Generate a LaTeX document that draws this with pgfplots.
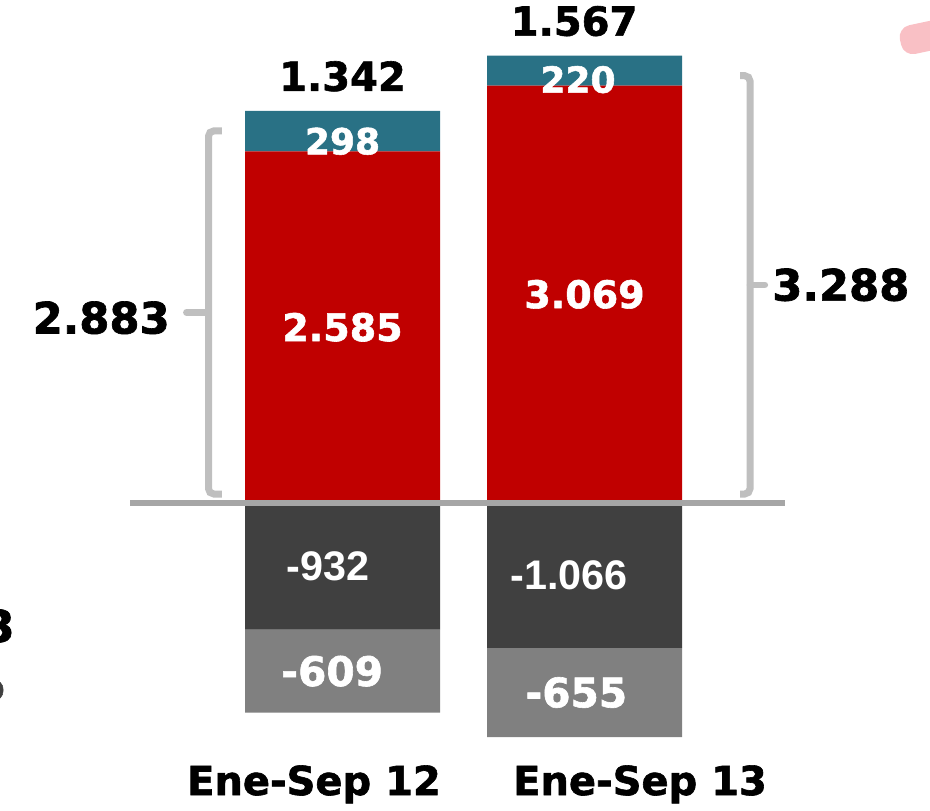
\documentclass[border=0pt]{standalone}
\usepackage{fontspec}
\setmainfont{DejaVu Sans}[BoldFeatures={FakeBold=1.5}]
\newfontfamily\arialf{Liberation Sans}
\usepackage{pgfplots}
\pgfplotsset{compat=1.18}

\definecolor{rojo}{RGB}{192,0,0}
\definecolor{azul}{RGB}{41,113,133}
\definecolor{oscuro}{RGB}{64,64,64}
\definecolor{medio}{RGB}{128,128,128}
\definecolor{llave}{RGB}{191,191,191}
\definecolor{linea}{RGB}{166,166,166}
\definecolor{rosa}{RGB}{249,192,197}

\newcommand{\fs}[1]{\fontsize{#1}{#1}\selectfont}

% 1px = 0.75pt; el eje ocupa toda la imagen
\pgfplotsset{
  base/.style={width=697.5pt, height=607.5pt, scale only axis, hide axis,
    xmin=-1.4153, xmax=2.4277, ymin=-2257.4, ymax=3698.5,
    ybar stacked, bar width=146.25pt, clip=false},
}

\begin{document}
\begin{tikzpicture}
% parte positiva
\begin{axis}[base]
  \addplot[fill=rojo, draw=none] coordinates {(0,2585) (1,3069)};
  \addplot[fill=azul, draw=none] coordinates {(0,298) (1,220)};

  \coordinate (SW) at (rel axis cs:0,0);
  \coordinate (NE) at (rel axis cs:1,1);
\end{axis}

% parte negativa
\begin{axis}[base]
  \addplot[fill=oscuro, draw=none] coordinates {(0,-932) (1,-1066)};
  \addplot[fill=medio, draw=none] coordinates {(0,-609) (1,-655)};
\end{axis}

% textos y llaves, encima de las barras
\begin{axis}[base]
  \draw[linea, line width=4.5pt] (axis cs:-0.878,0) -- (axis cs:1.8285,0);

  % totales netos
  \node[anchor=base, yshift=15pt, font=\bfseries\fs{30pt}] at (axis cs:0,2883) {1.342};
  \node[anchor=base, yshift=15pt, font=\bfseries\fs{30pt}] at (axis cs:0.957,3289) {1.567};

  % etiquetas dentro de las barras
  \node[text=white, font=\bfseries\fs{27pt}] at (axis cs:0,2660) {298};
  \node[text=white, font=\bfseries\fs{27pt}] at (axis cs:0.973,3113) {220};
  \node[text=white, font=\bfseries\fs{28.5pt}] at (axis cs:0,1292.5) {2.585};
  \node[text=white, font=\bfseries\fs{28.5pt}] at (axis cs:1,1534.5) {3.069};
  \node[text=white, font=\arialf\bfseries\fs{31pt}] at (axis cs:-0.06,-466) {-932};
  \node[text=white, font=\bfseries\fs{30.5pt}] at (axis cs:-0.043,-1236.5) {-609};
  \node[text=white, font=\arialf\bfseries\fs{31pt}] at (axis cs:0.936,-533) {-1.066};
  \node[text=white, font=\bfseries\fs{30.5pt}] at (axis cs:0.966,-1393.5) {-655};

  % llaves
  \draw[llave, line width=5.25pt, rounded corners=4pt]
    (axis cs:-0.498,2736) -- (axis cs:-0.5537,2736) -- (axis cs:-0.5537,66) -- (axis cs:-0.498,66);
  \draw[llave, line width=5pt, line cap=round] (axis cs:-0.5537,1401) -- (axis cs:-0.645,1401);
  \draw[llave, line width=5.25pt, rounded corners=4pt]
    (axis cs:1.6426,3142) -- (axis cs:1.6839,3142) -- (axis cs:1.6839,66) -- (axis cs:1.6426,66);
  \draw[llave, line width=5pt, line cap=round] (axis cs:1.6839,1604) -- (axis cs:1.745,1604);

  \node[anchor=east, inner sep=0pt, yshift=-4pt, font=\bfseries\fs{32.5pt}] at (axis cs:-0.7128,1401) {2.883};
  \node[anchor=west, inner sep=0pt, font=\bfseries\fs{32.5pt}] at (axis cs:1.7748,1604) {3.288};

  % categorias
  \node[anchor=base, inner sep=0pt, font=\bfseries\fs{30pt}] at (rel axis cs:0.3376,0.0185) {Ene-Sep 12};
  \node[anchor=base, inner sep=0pt, font=\bfseries\fs{30pt}] at (rel axis cs:0.6882,0.0185) {Ene-Sep 13};

  % restos recortados en los bordes
  \node[anchor=base east, inner sep=0pt, font=\bfseries\fs{33pt}] at (rel axis cs:0.0161,0.2074) {3};
  \node[anchor=base east, inner sep=0pt, text=black!75, font=\bfseries\fs{27pt}] at (rel axis cs:0.0054,0.1358) {o};
  \node[fill=rosa, rounded corners=9pt, minimum width=60pt, minimum height=22pt,
        rotate=12, anchor=west] at (rel axis cs:0.968,0.948) {};
\end{axis}
\pgfresetboundingbox
\path[use as bounding box] (SW) rectangle (NE);
\end{tikzpicture}
\end{document}
